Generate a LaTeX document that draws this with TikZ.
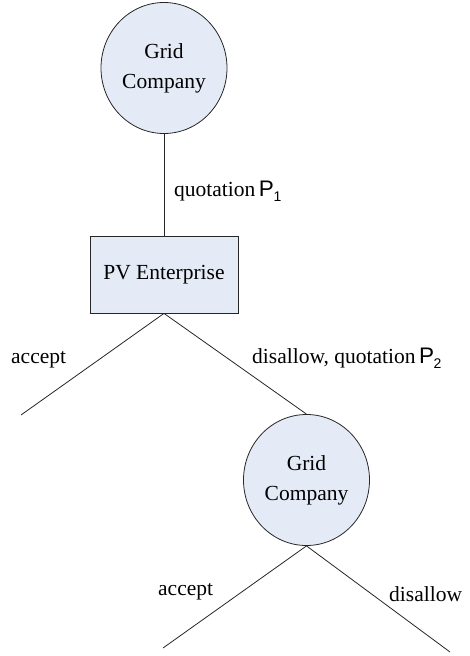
\documentclass[tikz,border=0pt]{standalone}
\usepackage{fontspec}
\setmainfont{Liberation Serif}
\newfontfamily\symfont{Liberation Sans}
\usetikzlibrary{shapes.geometric}

% price symbol with subscript, set in a sans face
\newcommand{\price}[1]{{\symfont\fontsize{22.5}{22.5}\selectfont P\kern-0.5pt\raisebox{-5pt}{\fontsize{14}{14}\selectfont #1}}}

\definecolor{nodefill}{HTML}{E5EBF6}
\tikzset{
  every node/.style={font=\fontsize{21.5}{30}\selectfont, inner sep=0pt},
  player/.style={ellipse, draw=black!85, line width=0.8pt, fill=nodefill,
    minimum width=126pt, minimum height=131pt, align=center},
  mover/.style={rectangle, draw=black!85, line width=0.8pt, fill=nodefill,
    minimum width=148pt, minimum height=77pt},
  edge/.style={draw=black!85, line width=0.8pt},
  lbl/.style={anchor=base west}
}

\begin{document}
\begin{tikzpicture}[x=1pt, y=-1pt]
  \useasboundingbox (0,0) rectangle (469,656);

  % decision nodes
  \node[player] (gc1) at (164,68) {Grid\\Company};
  \node[mover]  (pv)  at (164,274.5) {PV Enterprise};
  \node[player] (gc2) at (306.5,480) {Grid\\Company};

  % free ends of the terminal branches
  \coordinate (endA)  at (21,415);
  \coordinate (endB)  at (163,648);
  \coordinate (endC)  at (450,652);

  % branches
  \draw[edge] (gc1.south) -- (pv.north);
  \draw[edge] (pv.south) -- (endA);
  \draw[edge] (pv.south) -- (gc2.north);
  \draw[edge] (gc2.south) -- (endB);
  \draw[edge] (gc2.south) -- (endC);

  % branch labels
  \node[lbl] (q1) at (174,196) {quotation\,\price{1}};
  \node[lbl] (a1) at (11,363) {accept};
  \node[lbl] (d1) at (252,363) {disallow, quotation\,\price{2}};
  \node[lbl] (a2) at (158,595) {accept};
  \node[lbl] (d2) at (389,601) {disallow};
\end{tikzpicture}
\end{document}
